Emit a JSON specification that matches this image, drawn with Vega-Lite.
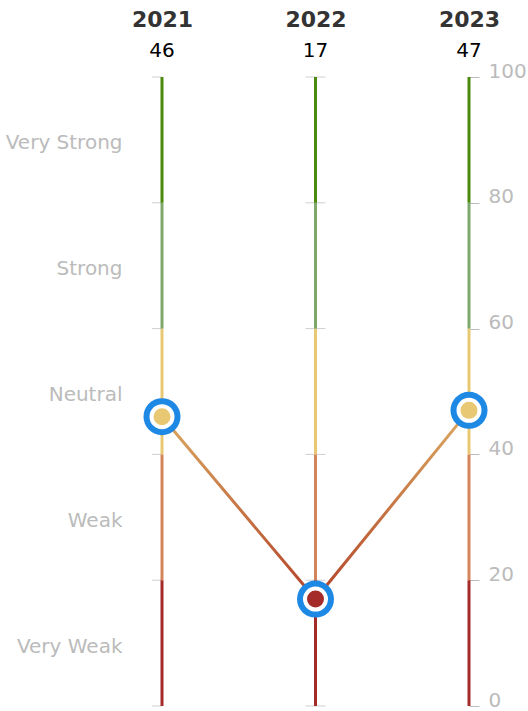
{
  "$schema": "https://vega.github.io/schema/vega-lite/v6.json",
  "autosize": "none",
  "padding": {"left": 162, "right": 59, "top": 77, "bottom": 5},
  "width": 307,
  "height": 629,
  "config": {"view": {"stroke": null}, "font": "DejaVu Sans"},
  "datasets": {
    "bands": [
      {"year": "2021", "lo": 0, "hi": 20, "band": "Very Weak"},
      {"year": "2021", "lo": 20, "hi": 40, "band": "Weak"},
      {"year": "2021", "lo": 40, "hi": 60, "band": "Neutral"},
      {"year": "2021", "lo": 60, "hi": 80, "band": "Strong"},
      {"year": "2021", "lo": 80, "hi": 100, "band": "Very Strong"},
      {"year": "2022", "lo": 0, "hi": 20, "band": "Very Weak"},
      {"year": "2022", "lo": 20, "hi": 40, "band": "Weak"},
      {"year": "2022", "lo": 40, "hi": 60, "band": "Neutral"},
      {"year": "2022", "lo": 60, "hi": 80, "band": "Strong"},
      {"year": "2022", "lo": 80, "hi": 100, "band": "Very Strong"},
      {"year": "2023", "lo": 0, "hi": 20, "band": "Very Weak"},
      {"year": "2023", "lo": 20, "hi": 40, "band": "Weak"},
      {"year": "2023", "lo": 40, "hi": 60, "band": "Neutral"},
      {"year": "2023", "lo": 60, "hi": 80, "band": "Strong"},
      {"year": "2023", "lo": 80, "hi": 100, "band": "Very Strong"}
    ],
    "ticks": [
      {"year": "2021", "v": 0}, {"year": "2021", "v": 20}, {"year": "2021", "v": 40},
      {"year": "2021", "v": 60}, {"year": "2021", "v": 80}, {"year": "2021", "v": 100},
      {"year": "2022", "v": 0}, {"year": "2022", "v": 20}, {"year": "2022", "v": 40},
      {"year": "2022", "v": 60}, {"year": "2022", "v": 80}, {"year": "2022", "v": 100}
    ],
    "points": [
      {"year": "2021", "value": 46, "band": "Neutral"},
      {"year": "2022", "value": 17, "band": "Very Weak"},
      {"year": "2023", "value": 47, "band": "Neutral"}
    ]
  },
  "layer": [
    {
      "data": {"name": "ticks"},
      "transform": [{"filter": "datum.year == '2021'"}],
      "mark": {"type": "tick", "size": 10, "thickness": 1, "xOffset": -5, "color": "#bbbbbb", "orient": "horizontal"},
      "encoding": {
        "x": {"field": "year", "type": "nominal", "scale": {"type": "point", "padding": 0, "domain": ["2021", "2022", "2023"]},
          "axis": {"orient": "top", "title": null, "ticks": false, "domain": false, "labelFontWeight": "bold", "labelFontSize": 22, "labelColor": "#333333", "labelPadding": 46, "labelAngle": 0}},
        "y": {"field": "v", "type": "quantitative", "scale": {"domain": [0, 100], "nice": false},
          "axis": {"orient": "left", "title": null, "values": [10, 30, 50, 70, 90], "ticks": false, "domain": false, "grid": false,
            "labelExpr": "datum.value == 10 ? 'Very Weak' : datum.value == 30 ? 'Weak' : datum.value == 50 ? 'Neutral' : datum.value == 70 ? 'Strong' : 'Very Strong'",
            "labelColor": "#bbbbbb", "labelFontSize": 20, "labelPadding": 40, "labelOffset": 3, "labelFont": "DejaVu Sans"}}
      }
    },
    {
      "data": {"name": "ticks"},
      "transform": [{"filter": "datum.year == '2022'"}],
      "mark": {"type": "tick", "size": 20, "thickness": 1, "color": "#bbbbbb", "orient": "horizontal"},
      "encoding": {
        "x": {"field": "year", "type": "nominal"},
        "y": {"field": "v", "type": "quantitative", "axis": null}
      }
    },
    {
      "data": {"name": "bands"},
      "mark": {"type": "rule", "strokeWidth": 3},
      "encoding": {
        "x": {"field": "year", "type": "nominal"},
        "y": {"field": "lo", "type": "quantitative", "axis": null},
        "y2": {"field": "hi"},
        "color": {"field": "band", "type": "nominal", "legend": null,
          "scale": {"domain": ["Very Weak", "Weak", "Neutral", "Strong", "Very Strong"],
            "range": ["#a52a2a", "#d4845a", "#e8c872", "#7ea86c", "#4b8a0c"]}}
      }
    },
    {
      "data": {"name": "points"},
      "mark": {"type": "line", "strokeWidth": 3,
        "stroke": {"gradient": "linear", "x1": 0, "y1": 0, "x2": 0, "y2": 1,
          "stops": [{"offset": 0, "color": "#dcab62"}, {"offset": 1, "color": "#b3442a"}]}},
      "encoding": {
        "x": {"field": "year", "type": "nominal"},
        "y": {"field": "value", "type": "quantitative", "axis": null}
      }
    },
    {
      "data": {"name": "points"},
      "mark": {"type": "circle", "size": 1369, "color": "#1e88e5", "opacity": 1},
      "encoding": {
        "x": {"field": "year", "type": "nominal"},
        "y": {"field": "value", "type": "quantitative", "axis": null}
      }
    },
    {
      "data": {"name": "points"},
      "mark": {"type": "circle", "size": 441, "stroke": "#ffffff", "strokeWidth": 4, "opacity": 1},
      "encoding": {
        "x": {"field": "year", "type": "nominal"},
        "y": {"field": "value", "type": "quantitative", "axis": null},
        "color": {"field": "band", "type": "nominal", "legend": null}
      }
    },
    {
      "data": {"name": "points"},
      "mark": {"type": "text", "dy": -26, "fontSize": 20, "color": "#000000", "baseline": "middle"},
      "encoding": {
        "x": {"field": "year", "type": "nominal"},
        "y": {"datum": 100, "type": "quantitative",
          "axis": {"orient": "right", "title": null, "values": [0, 20, 40, 60, 80, 100], "tickSize": 10, "tickColor": "#bbbbbb",
            "domain": false, "grid": false, "labelColor": "#bbbbbb", "labelFontSize": 20, "labelPadding": 9, "labelBaseline": "alphabetic", "labelFont": "DejaVu Sans"}},
        "text": {"field": "value", "type": "quantitative"}
      }
    }
  ],
  "resolve": {"axis": {"y": "independent"}}
}
